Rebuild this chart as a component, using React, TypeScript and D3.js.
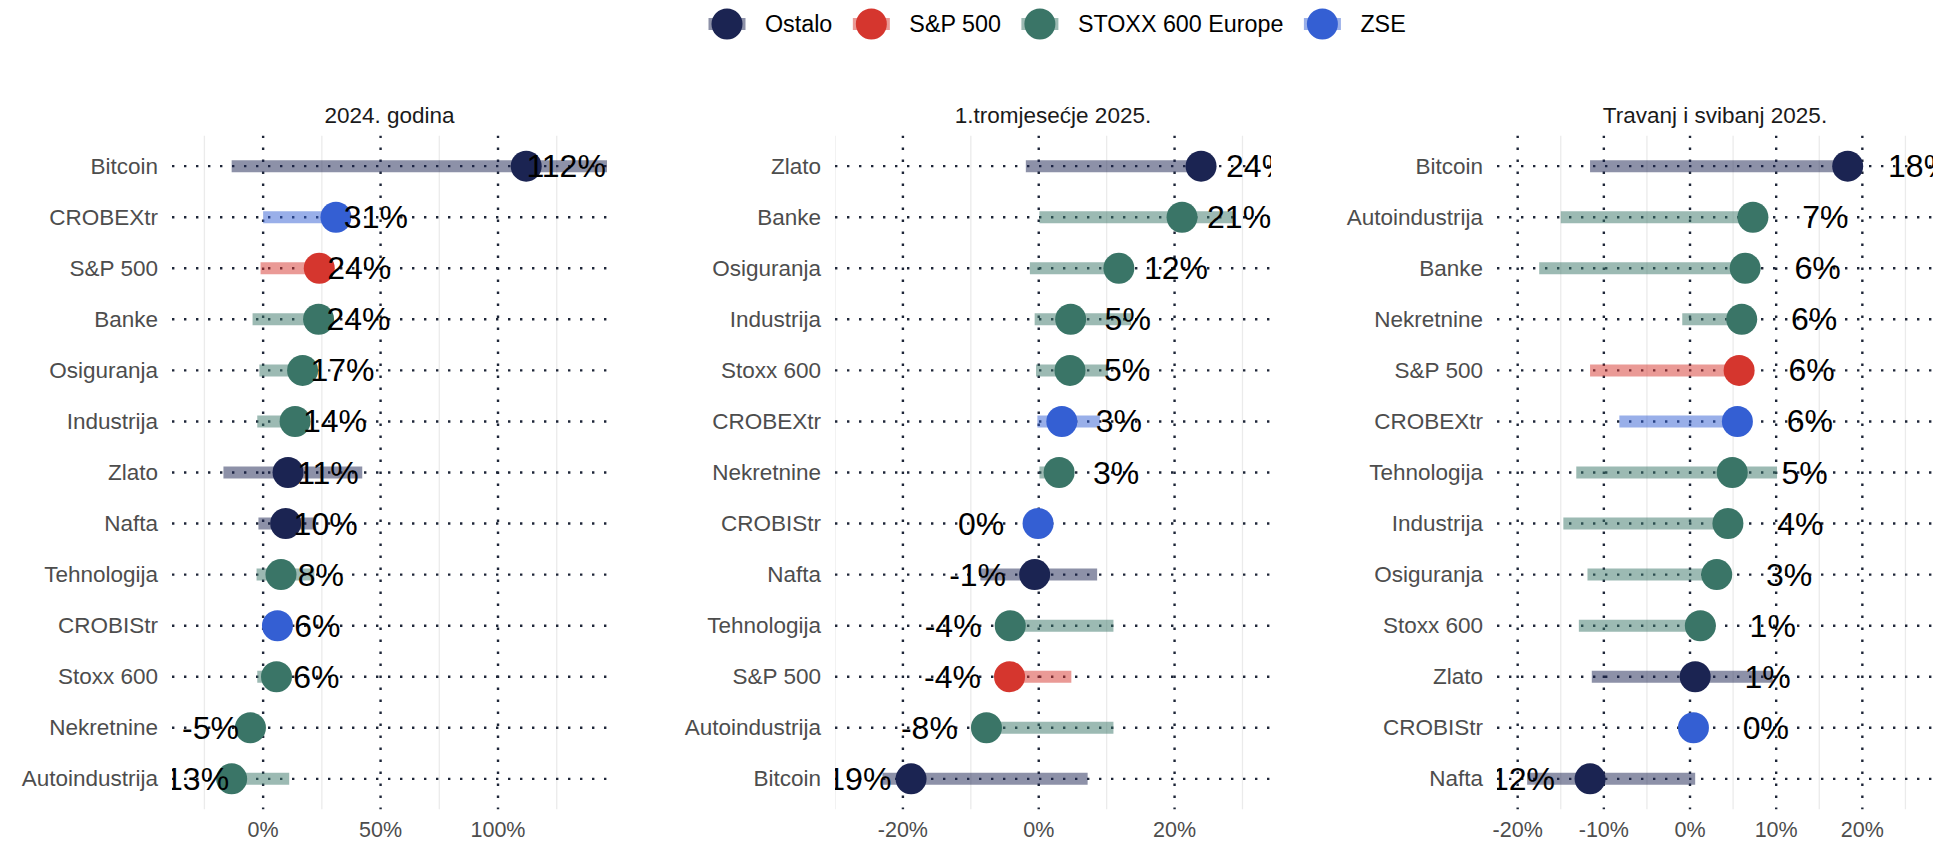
import React, { useEffect, useRef } from "react";
import * as d3 from "d3";

const W = 1954;
const H = 842;

const groups = ["Ostalo", "S&P 500", "STOXX 600 Europe", "ZSE"];
const groupColors = ["#1b2452", "#d5362e", "#3a7567", "#345fd3"];

const panelTitles = ["2024. godina", "1.tromjesećje 2025.", "Travanj i svibanj 2025."];

// Panel 1: 2024
const p1Cats = ["Bitcoin", "CROBEXtr", "S&P 500", "Banke", "Osiguranja", "Industrija", "Zlato", "Nafta", "Tehnologija", "CROBIStr", "Stoxx 600", "Nekretnine", "Autoindustrija"];
const p1Vals = [112, 31, 23.9, 23.6, 16.8, 13.6, 10.6, 9.6, 7.6, 6.1, 5.7, -5.4, -13.4];
const p1Lo = [-13.4, 0, -1.1, -4.5, -1.6, -2.5, -16.9, -2, -2.8, 5, -2.5, -5.6, -13.4];
const p1Hi = [150, 31, 24, 24, 17, 14, 42.2, 21.9, 21.8, 6.5, 6, -5, 11.1];
const p1Grp = ["Ostalo", "ZSE", "S&P 500", "STOXX 600 Europe", "STOXX 600 Europe", "STOXX 600 Europe", "Ostalo", "Ostalo", "STOXX 600 Europe", "ZSE", "STOXX 600 Europe", "STOXX 600 Europe", "STOXX 600 Europe"];

// Panel 2: Q1 2025
const p2Cats = ["Zlato", "Banke", "Osiguranja", "Industrija", "Stoxx 600", "CROBEXtr", "Nekretnine", "CROBIStr", "Nafta", "Tehnologija", "S&P 500", "Autoindustrija", "Bitcoin"];
const p2Vals = [23.9, 21.1, 11.8, 4.7, 4.6, 3.4, 3.0, -0.1, -0.6, -4.2, -4.3, -7.7, -18.8];
const p2Lo = [-1.9, 0.1, -1.3, -0.6, -0.4, -0.2, 0.1, -0.1, -8.6, -4.2, -4.3, -7.7, -23];
const p2Hi = [24, 28.6, 12, 13.6, 10.2, 9.0, 3.0, 0, 8.6, 11.0, 4.8, 11.0, 7.2];
const p2Grp = ["Ostalo", "STOXX 600 Europe", "STOXX 600 Europe", "STOXX 600 Europe", "STOXX 600 Europe", "ZSE", "STOXX 600 Europe", "ZSE", "Ostalo", "STOXX 600 Europe", "S&P 500", "STOXX 600 Europe", "Ostalo"];

// Panel 3: April-May 2025
const p3Cats = ["Bitcoin", "Autoindustrija", "Banke", "Nekretnine", "S&P 500", "CROBEXtr", "Tehnologija", "Industrija", "Osiguranja", "Stoxx 600", "Zlato", "CROBIStr", "Nafta"];
const p3Vals = [18.3, 7.3, 6.4, 6.0, 5.7, 5.5, 4.9, 4.4, 3.1, 1.2, 0.6, 0.4, -11.6];
const p3Lo = [-11.6, -15.0, -17.5, -0.9, -11.6, -8.2, -13.2, -14.7, -11.9, -12.9, -11.4, 0.4, -18.9];
const p3Hi = [18.3, 7.3, 6.4, 6.0, 5.7, 5.5, 10.1, 4.4, 3.1, 1.2, 9.6, 0.4, 0.6];
const p3Grp = ["Ostalo", "STOXX 600 Europe", "STOXX 600 Europe", "STOXX 600 Europe", "S&P 500", "ZSE", "STOXX 600 Europe", "STOXX 600 Europe", "STOXX 600 Europe", "STOXX 600 Europe", "Ostalo", "ZSE", "Ostalo"];

const p1Ticks = [0, 50, 100];
const p1Minor = [-25, 25, 75, 125];
const p2Ticks = [-20, 0, 20];
const p2Minor = [-30, -10, 10, 30];
const p3Ticks = [-20, -10, 0, 10, 20];
const p3Minor = [-15, -5, 5, 15, 25];

const FONT = "'Liberation Sans', Arial, Helvetica, sans-serif";

export default function App() {
  const ref = useRef<SVGSVGElement>(null);

  useEffect(() => {
    const svg = d3.select(ref.current);
    svg.selectAll("*").remove();

    const color = d3.scaleOrdinal<string, string>().domain(groups).range(groupColors);

    const panels = [
      { cats: p1Cats, vals: p1Vals, lo: p1Lo, hi: p1Hi, grp: p1Grp, ticks: p1Ticks, minor: p1Minor, domain: [-38.8, 146.4], range: [172, 607], nudge: 17 },
      { cats: p2Cats, vals: p2Vals, lo: p2Lo, hi: p2Hi, grp: p2Grp, ticks: p2Ticks, minor: p2Minor, domain: [-30, 34.2], range: [835, 1271], nudge: 8.4 },
      { cats: p3Cats, vals: p3Vals, lo: p3Lo, hi: p3Hi, grp: p3Grp, ticks: p3Ticks, minor: p3Minor, domain: [-22.4, 28.2], range: [1497, 1933], nudge: 8.4 },
    ];

    const top = 135.5;
    const bottom = 809.5;
    const defs = svg.append("defs");

    panels.forEach((p, pi) => {
      const x = d3.scaleLinear().domain(p.domain).range(p.range);
      const y = d3.scalePoint<string>().domain(p.cats).range([top, bottom]).padding(0.6);
      const g = svg.append("g");
      const clipId = `clip-${pi}`;
      defs.append("clipPath").attr("id", clipId)
        .append("rect").attr("x", p.range[0]).attr("y", top)
        .attr("width", p.range[1] - p.range[0]).attr("height", bottom - top);

      // title
      g.append("text")
        .attr("x", (p.range[0] + p.range[1]) / 2).attr("y", 115)
        .attr("text-anchor", "middle").attr("dominant-baseline", "central")
        .attr("font-family", FONT).attr("font-size", 22.5).attr("fill", "#1a1a1a")
        .text(panelTitles[pi]);

      const inner = g.append("g").attr("clip-path", `url(#${clipId})`);
      // minor gridlines
      inner.selectAll(".minor").data(p.minor).join("line")
        .attr("x1", (d) => x(d)).attr("x2", (d) => x(d))
        .attr("y1", top).attr("y2", bottom)
        .attr("stroke", "#ebebeb").attr("stroke-width", 1.3);
      // major vertical dotted
      inner.selectAll(".majorv").data(p.ticks).join("line")
        .attr("x1", (d) => x(d)).attr("x2", (d) => x(d))
        .attr("y1", top).attr("y2", bottom)
        .attr("stroke", "#1e2638").attr("stroke-width", 2.4)
        .attr("stroke-dasharray", "2.4 9.6");
      // horizontal dotted
      inner.selectAll(".majorh").data(p.cats).join("line")
        .attr("x1", p.range[0]).attr("x2", p.range[1])
        .attr("y1", (d) => y(d)!).attr("y2", (d) => y(d)!)
        .attr("stroke", "#1e2638").attr("stroke-width", 2.4)
        .attr("stroke-dasharray", "2.4 9.6");

      const idx = d3.range(p.cats.length);
      // range bars
      inner.selectAll(".bar").data(idx).join("line")
        .attr("x1", (i) => x(p.lo[i])).attr("x2", (i) => x(p.hi[i]))
        .attr("y1", (i) => y(p.cats[i])!).attr("y2", (i) => y(p.cats[i])!)
        .attr("stroke", (i) => color(p.grp[i])).attr("stroke-opacity", 0.5)
        .attr("stroke-width", 12);
      // dots
      inner.selectAll(".dot").data(idx).join("circle")
        .attr("cx", (i) => x(p.vals[i])).attr("cy", (i) => y(p.cats[i])!)
        .attr("r", 15.5).attr("fill", (i) => color(p.grp[i]));
      // value labels
      inner.selectAll(".lab").data(idx).join("text")
        .attr("x", (i) => x(p.vals[i] + (p.vals[i] >= 0 ? p.nudge : -p.nudge)))
        .attr("y", (i) => y(p.cats[i])!)
        .attr("text-anchor", "middle").attr("dominant-baseline", "central")
        .attr("font-family", FONT).attr("font-size", 32).attr("fill", "#000")
        .text((i) => `${Math.round(p.vals[i])}%`);

      // y axis labels
      g.selectAll(".ylab").data(p.cats).join("text")
        .attr("x", p.range[0] - 14).attr("y", (d) => y(d)!)
        .attr("text-anchor", "end").attr("dominant-baseline", "central")
        .attr("font-family", FONT).attr("font-size", 22.5).attr("fill", "#4d4d4d")
        .text((d) => d);
      // x tick labels
      g.selectAll(".xlab").data(p.ticks).join("text")
        .attr("x", (d) => x(d)).attr("y", 830)
        .attr("text-anchor", "middle").attr("dominant-baseline", "central")
        .attr("font-family", FONT).attr("font-size", 21.5).attr("fill", "#4d4d4d")
        .text((d) => `${d}%`);
    });

    // legend
    const lg = svg.append("g");
    let cx = 727;
    groups.forEach((gname, i) => {
      const c = groupColors[i];
      lg.append("line").attr("x1", cx - 18.5).attr("x2", cx + 18.5)
        .attr("y1", 24).attr("y2", 24)
        .attr("stroke", c).attr("stroke-opacity", 0.5).attr("stroke-width", 12);
      lg.append("circle").attr("cx", cx).attr("cy", 24).attr("r", 15.5).attr("fill", c);
      const t = lg.append("text").attr("x", cx + 38).attr("y", 24)
        .attr("dominant-baseline", "central")
        .attr("font-family", FONT).attr("font-size", 23.3).attr("fill", "#000")
        .text(gname);
      const w = (t.node() as SVGTextElement).getComputedTextLength();
      cx = cx + 38 + w + 39;
    });
  }, []);

  return (
    <svg ref={ref} width={W} height={H} style={{ position: "absolute", left: 0, top: 0, background: "#fff" }} />
  );
}
